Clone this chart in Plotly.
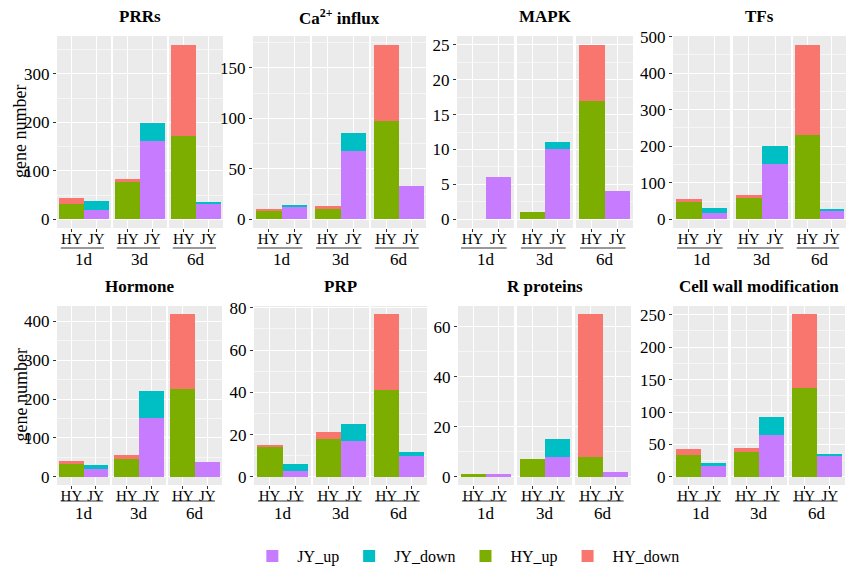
import plotly.graph_objects as go

# ---------------- data ----------------
panels = ["PRRs", "Ca<sup>2+</sup> influx", "MAPK", "TFs",
          "Hormone", "PRP", "R proteins", "Cell wall modification"]
days = ["1d", "3d", "6d"]
genotypes = ["HY", "JY"]

# values per panel, per day (1d, 3d, 6d)
jy_up = [[20, 162, 33], [13, 68, 33], [6, 10, 4], [17, 151, 25],
         [19, 152, 37], [3, 17, 10], [1, 8, 2], [17, 64, 33]]
jy_down = [[18, 37, 1], [1, 18, 0], [0, 1, 0], [14, 49, 3],
           [12, 68, 0], [3, 8, 2], [0, 7, 0], [5, 28, 2]]
hy_up = [[31, 76, 171], [9, 10, 97], [0, 1, 17], [46, 59, 232],
         [34, 45, 225], [14, 18, 41], [1, 7, 8], [34, 39, 137]]
hy_down = [[12, 8, 189], [1, 3, 76], [0, 0, 8], [9, 7, 246],
           [8, 12, 193], [1, 3, 36], [0, 0, 57], [9, 6, 114]]
y_dticks = [100, 50, 5, 100, 100, 20, 20, 50]

series = [("JY_up", jy_up, "#C77CFF", "JY"),
          ("JY_down", jy_down, "#00BFC4", "JY"),
          ("HY_up", hy_up, "#7CAE00", "HY"),
          ("HY_down", hy_down, "#F8766D", "HY")]

# ---------------- layout geometry (pixels) ----------------
W, H = 847, 571
facet_px = [
    [(57, 111), (113, 167), (169, 223)], [(253, 310), (312, 369), (371, 426)],
    [(457, 514), (517, 573), (576, 633)], [(673, 730), (733, 791), (793, 846)],
    [(57, 110), (112, 166), (168, 222)], [(254, 311), (313, 369), (371, 427)],
    [(458, 514), (517, 572), (575, 631)], [(673, 728), (731, 787), (789, 845)],
]
row_px = [(36, 228), (306, 485)]
title_y_px = [17, 286]
under_y_px = [248, 501]
day_y_px = [259, 513]

FONT = "Liberation Serif"

fig = go.Figure()
layout = dict(
    width=W, height=H, margin=dict(l=0, r=0, t=0, b=0, autoexpand=False),
    paper_bgcolor="white", plot_bgcolor="#EBEBEB",
    barmode="stack", bargap=0, bargroupgap=0,
    font=dict(family=FONT, size=16, color="black"),
    showlegend=True,
    legend=dict(orientation="h", x=0.55, xanchor="center", y=1 - 556 / H,
                yanchor="middle", font=dict(family=FONT, size=16, color="black"),
                traceorder="normal", itemwidth=40),
)
annotations = []
shapes = []

for p in range(8):
    row = p // 4
    yi = p + 1
    ystr = "y" if yi == 1 else f"y{yi}"
    totals = []
    for d in range(3):
        totals.append(hy_up[p][d] + hy_down[p][d])
        totals.append(jy_up[p][d] + jy_down[p][d])
    M = max(totals)
    for f in range(3):
        xi = p * 3 + f + 1
        xstr = "x" if xi == 1 else f"x{xi}"
        for name, vals, col, geno in series:
            fig.add_trace(go.Bar(
                x=[geno], y=[vals[p][f]], name=name, legendgroup=name,
                showlegend=(p == 0 and f == 0), marker=dict(color=col, line=dict(width=0)),
                xaxis=xstr, yaxis=ystr,
            ))
        x0, x1 = facet_px[p][f]
        layout[f"xaxis{xi if xi > 1 else ''}"] = dict(
            domain=[x0 / W, x1 / W], anchor=ystr, type="category",
            categoryorder="array", categoryarray=genotypes, range=[-0.6, 1.6],
            showgrid=True, gridcolor="white", gridwidth=1.1, zeroline=False,
            ticks="outside", ticklen=3, tickwidth=1, tickcolor="#333333",
            tickfont=dict(family=FONT, size=15, color="black"), showline=False,
            ticklabelstandoff=-6, automargin=False, fixedrange=True,
        )
        dom = "x domain" if xi == 1 else f"x{xi} domain"
        shapes.append(dict(type="line", xref=dom, yref="paper", x0=0.07, x1=0.87,
                           y0=1 - under_y_px[row] / H, y1=1 - under_y_px[row] / H,
                           line=dict(color="#333333", width=1)))
        annotations.append(dict(text=days[f], xref=dom, x=0.5, yref="paper",
                                y=1 - day_y_px[row] / H, showarrow=False,
                                xanchor="center", yanchor="middle",
                                font=dict(family=FONT, size=17, color="black")))
    t, b = row_px[row]
    layout[f"yaxis{yi if yi > 1 else ''}"] = dict(
        domain=[1 - b / H, 1 - t / H], anchor="x" if p == 0 else f"x{p * 3 + 1}",
        range=[-0.05 * M, 1.05 * M], dtick=y_dticks[p], tick0=0,
        showgrid=True, gridcolor="white", gridwidth=1.1, zeroline=False,
        minor=dict(dtick=y_dticks[p] / 2, tick0=0, showgrid=True,
                   gridcolor="#F6F6F6", gridwidth=0.6),
        ticks="outside", ticklen=3, tickwidth=1, tickcolor="#333333",
        tickfont=dict(family=FONT, size=17, color="black"), showline=False,
        automargin=False, fixedrange=True,
    )
    px0 = facet_px[p][0][0]
    px1 = facet_px[p][2][1]
    annotations.append(dict(text=f"<b>{panels[p]}</b>", xref="paper",
                            x=(px0 + px1) / 2 / W, yref="paper",
                            y=1 - title_y_px[row] / H, showarrow=False,
                            xanchor="center", yanchor="middle",
                            font=dict(family=FONT, size=17, color="black")))
    if p % 4 == 0:
        annotations.append(dict(text="gene number", xref="paper", x=20 / W,
                                yref=f"{ystr} domain", y=0.5, showarrow=False,
                                textangle=-90, xanchor="center", yanchor="middle",
                                font=dict(family=FONT, size=18, color="black")))

layout["annotations"] = annotations
layout["shapes"] = shapes
fig.update_layout(**layout)
fig.write_html("out.html", config={"displayModeBar": False},
               post_script="document.body.style.margin='0';document.body.style.overflow='hidden';")
